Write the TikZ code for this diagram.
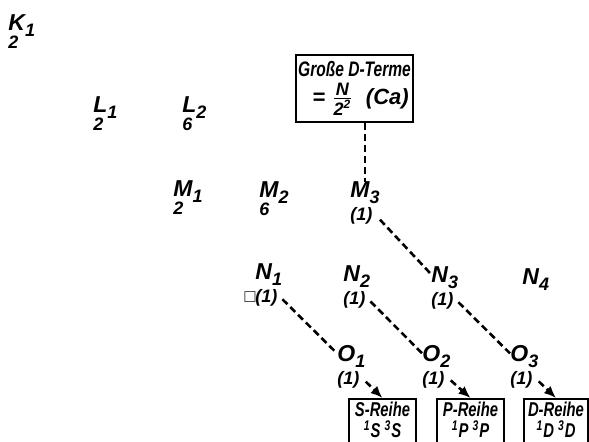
\documentclass[tikz,border=0pt]{standalone}
\usepackage{fontspec}
\setmainfont{Liberation Sans}
\newfontfamily\boxfont{Liberation Sans}[FakeStretch=0.74]
\usetikzlibrary{arrows.meta}

\newcommand{\sub}{\fontsize{9}{9}\selectfont}
\newcommand{\lvl}[4][0pt]{\begin{tabular}[t]{@{}l@{}}#2\raisebox{-3pt}[0pt][0pt]{\sub #3}\\[#1] \sub #4\end{tabular}}

\begin{document}
\begin{tikzpicture}[
  x=0.5pt, y=-0.5pt,
  lvl/.style={inner sep=0pt,anchor=base west,font=\fontsize{11.5}{8.5}\selectfont\bfseries\itshape},
  box/.style={draw,line width=1pt,inner sep=1pt,align=center,font=\boxfont\fontsize{10}{10.5}\selectfont\bfseries\itshape},
  reihe/.style={box,anchor=north,minimum width=33.5pt,minimum height=24pt,text depth=3pt},
  dsh/.style={line width=1.3pt,dash pattern=on 3.5pt off 2pt},
  arr/.style={dsh,-{Latex[length=6pt,width=5pt]}}
]
\path[use as bounding box,clip] (0,0) rectangle (589,442);
% shells K to O
\node[lvl] (K1) at (8,31) {\lvl{K}{1}{2}};
\node[lvl] (L1) at (93,113) {\lvl{L}{1}{2}};
\node[lvl] (L2) at (182,113) {\lvl{L}{2}{6}};
\node[lvl] (M1) at (173,197) {\lvl{M}{1}{2}};
\node[lvl] (M2) at (259,198) {\lvl{M}{2}{6}};
\node[lvl] (M3) at (350,198) {\lvl[2pt]{M}{3}{(1)}};
\node[lvl] (N1) at (255,280) {\lvl[2pt]{N}{1}{\llap{□}(1)}};
\node[lvl] (N2) at (343,282) {\lvl[2pt]{N}{2}{(1)}};
\node[lvl] (N3) at (431,283) {\lvl[2pt]{N}{3}{(1)}};
\node[lvl] (N4) at (522,285) {N\raisebox{-3pt}{\sub 4}};
\node[lvl] (O1) at (337,362) {\lvl[2pt]{O}{1}{(1)}};
\node[lvl] (O2) at (422,362) {\lvl[2pt]{O}{2}{(1)}};
\node[lvl] (O3) at (510,362) {\lvl[2pt]{O}{3}{(1)}};
% boxes
\node[box,minimum width=57.5pt,minimum height=33.5pt,font=\boxfont\fontsize{10.5}{11}\selectfont\bfseries\itshape] (grosse) at (354.5,88.5) {Große D-Terme\\[3pt]\hspace*{6pt}{\rmfamily\fontsize{11}{11}\selectfont = $\frac{\mbox{\fontsize{9}{9}\selectfont N}}{\mbox{\fontsize{9}{9}\selectfont 2\textsuperscript{2}}}$\ \ (Ca)}};
\node[reihe] (sreihe) at (382.5,398) {S-Reihe\\\textsuperscript{1}S \textsuperscript{3}S};
\node[reihe] (preihe) at (470.5,398) {P-Reihe\\\textsuperscript{1}P \textsuperscript{3}P};
\node[reihe,minimum width=32pt] (dreihe) at (556,398) {D-Reihe\\\textsuperscript{1}D \textsuperscript{3}D};
% dashed links
\draw[dsh] (M3.north |- grosse.south) -- (M3.north);
\draw[dsh] (M3) -- (N3);
\draw[dsh] (N1) -- (O1);
\draw[dsh] (N2) -- (O2);
\draw[dsh] (N3) -- (O3);
\draw[arr] (O1) -- (sreihe.north);
\draw[arr] (O2) -- (preihe.north);
\draw[arr] (O3) -- (dreihe.north);
\end{tikzpicture}
\end{document}
